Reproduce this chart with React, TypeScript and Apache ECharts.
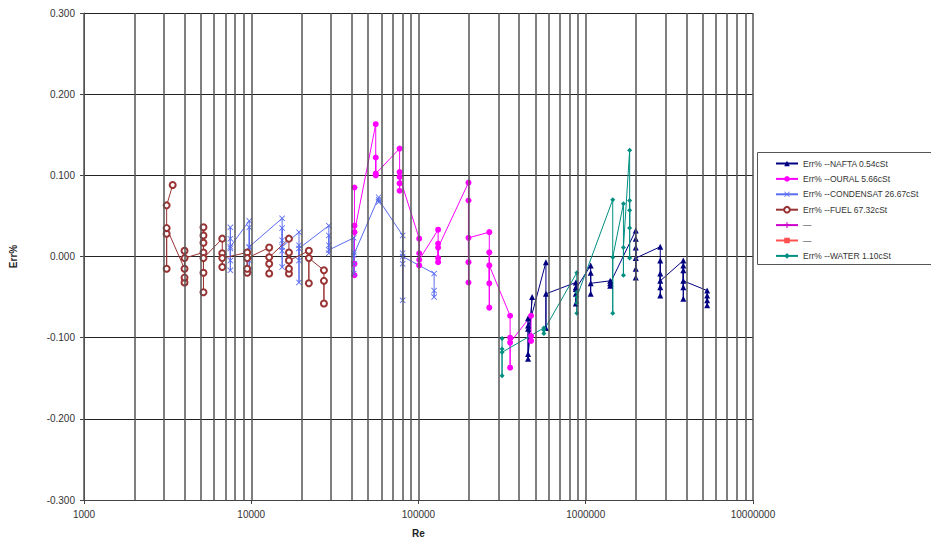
import React, { useEffect, useRef } from "react";
import * as echarts from "echarts";

// Re, Err% pairs per series
const NAFTA: [number, number][] = [
  [452000, -0.085], [452000, -0.126], [478000, -0.05], [452000, -0.12], [452000, -0.076], [452000, -0.089],
  [578000, -0.007], [578000, -0.088], [578000, -0.046],
  [872000, -0.032], [872000, -0.058], [872000, -0.038], [872000, -0.046], [872000, -0.04],
  [1070000, -0.011], [1070000, -0.046], [1070000, -0.02], [1070000, -0.033],
  [1400000, -0.03], [1400000, -0.036], [1400000, -0.033],
  [1990000, 0.032], [1990000, -0.026], [1990000, 0.022], [1990000, -0.015], [1990000, 0.011], [1990000, -0.002],
  [2790000, 0.012], [2790000, -0.048], [2790000, -0.005], [2790000, -0.038], [2790000, -0.021], [2790000, -0.03],
  [3830000, -0.005], [3830000, -0.052], [3830000, -0.011], [3830000, -0.038], [3830000, -0.017], [3830000, -0.03],
  [5320000, -0.042], [5320000, -0.06], [5320000, -0.048], [5320000, -0.054],
];

const OURAL: [number, number][] = [
  [41400, 0.085], [41400, -0.023], [41400, 0.038], [41400, -0.009], [41400, 0.03],
  [55500, 0.163], [55500, 0.1], [55500, 0.122], [55500, 0.102],
  [77100, 0.133], [77100, 0.081], [77100, 0.104], [77100, 0.09], [77100, 0.098],
  [101000, 0.022], [101000, -0.011], [101000, 0.004], [101000, -0.004],
  [131000, 0.033], [131000, -0.007], [131000, 0.016], [131000, -0.002], [131000, 0.011],
  [199000, 0.091], [199000, -0.032], [199000, 0.069], [199000, -0.007], [199000, 0.023],
  [265000, 0.03], [265000, -0.063], [265000, 0.005], [265000, -0.033], [265000, -0.011],
  [353000, -0.073], [353000, -0.137], [353000, -0.1], [353000, -0.106],
  [471000, -0.073], [471000, -0.104], [471000, -0.098],
];

const CONDENSAT: [number, number][] = [
  [7500, 0.01], [7500, 0.036], [7500, -0.017], [7500, 0.022], [7500, -0.005], [7500, 0.012],
  [9730, 0.044], [9730, -0.017], [9730, 0.036], [9730, -0.005], [9730, 0.011], [9730, 0.012],
  [15300, 0.047], [15300, -0.013], [15300, 0.035], [15300, 0.007], [15300, 0.02], [15300, 0.012],
  [19300, 0.03], [19300, -0.032], [19300, 0.014], [19300, -0.005], [19300, 0.01],
  [29100, 0.038], [29100, 0.004], [29100, 0.026], [29100, 0.014], [29100, 0.008],
  [41000, 0.023], [41000, -0.021], [41000, 0.005], [41000, -0.009], [41000, 0.002],
  [57800, 0.073], [57800, 0.067], [57800, 0.07],
  [80400, 0.026], [80400, -0.054], [80400, 0.004], [80400, -0.009], [80400, 0.0],
  [124000, -0.021], [124000, -0.05], [124000, -0.042],
];

const FUEL: [number, number][] = [
  [3390, 0.088], [3120, 0.063], [3120, -0.015], [3120, 0.028], [3120, 0.035],
  [3990, -0.015], [3990, -0.032], [3990, 0.007], [3990, -0.026], [3990, -0.002],
  [5180, 0.005], [5180, 0.036], [5180, -0.044], [5180, 0.026], [5180, -0.02], [5180, 0.017], [5180, -0.002],
  [6710, 0.022], [6710, -0.013], [6710, 0.004], [6710, -0.002],
  [9460, 0.005], [9460, -0.02], [9460, -0.015], [9460, -0.002],
  [12800, 0.011], [12800, -0.021], [12800, -0.009], [12800, -0.001],
  [16800, 0.022], [16800, -0.021], [16800, 0.005], [16800, -0.015], [16800, -0.005],
  [22100, 0.007], [22100, -0.033], [22100, -0.002],
  [27200, -0.017], [27200, -0.058], [27200, -0.03],
];

const EMPTY_A: [number, number][] = [];
const EMPTY_B: [number, number][] = [];

const WATER: [number, number][] = [
  [316000, -0.101], [316000, -0.147], [316000, -0.114], [316000, -0.118],
  [562000, -0.088], [562000, -0.095], [562000, -0.091],
  [884000, -0.02], [884000, -0.07], [884000, -0.044], [884000, -0.057], [884000, -0.05],
  [1450000, 0.07], [1450000, -0.07], [1450000, -0.001],
  [1680000, 0.065], [1680000, -0.023], [1680000, 0.011],
  [1830000, 0.131], [1830000, -0.002], [1830000, 0.069], [1830000, 0.035], [1830000, 0.057],
];

const LEGEND_NAMES = [
  "Err% --NAFTA 0.54cSt",
  "Err% --OURAL 5.66cSt",
  "Err% --CONDENSAT 26.67cSt",
  "Err% --FUEL 67.32cSt",
  "—",
  "— ",
  "Err% --WATER 1.10cSt",
];

const X_GRID_LINES: number[] = [];
for (const d of [1000, 10000, 100000, 1000000]) {
  for (let k = 1; k <= 9; k++) X_GRID_LINES.push(d * k);
}
X_GRID_LINES.push(10000000);

const X_SYMBOL = "path://M0,1L1,0L5,4L9,0L10,1L6,5L10,9L9,10L5,6L1,10L0,9L4,5Z";
const PLUS_SYMBOL = "path://M4,0H6V4H10V6H6V10H4V6H0V4H4Z";

const FONT = "'Liberation Sans', Arial, sans-serif";

export default function App() {
  const ref = useRef<HTMLDivElement>(null);
  useEffect(() => {
    if (!ref.current) return;
    const chart = echarts.init(ref.current, undefined, { renderer: "svg" });
    const mk = (name: string, data: [number, number][], color: string, symbol: string, size: number, itemExtra: any = {}) => ({
      name,
      type: "line",
      data,
      symbol,
      symbolSize: size,
      showSymbol: true,
      z: 3,
      lineStyle: { color, width: 1 },
      itemStyle: { color, ...itemExtra },
      emphasis: { disabled: true },
    });
    chart.setOption({
      animation: false,
      textStyle: { fontFamily: FONT },
      grid: { left: 81, right: 186, top: 13, bottom: 47, containLabel: false },
      xAxis: {
        type: "log",
        logBase: 10,
        min: 1000,
        max: 10000000,
        name: "Re",
        nameLocation: "middle",
        nameGap: 28,
        nameTextStyle: { fontSize: 10, fontWeight: "bold", color: "#222", fontFamily: FONT },
        axisLine: { show: true, onZero: false, lineStyle: { color: "#444", width: 1 } },
        axisTick: { show: true, inside: false, length: 4, lineStyle: { color: "#444" } },
        axisLabel: { fontSize: 10, color: "#333", margin: 9, fontFamily: FONT, formatter: (v: number) => String(Math.round(v)) },
        splitLine: { show: false },
      },
      yAxis: {
        type: "value",
        min: -0.3,
        max: 0.3,
        interval: 0.1,
        name: "Err%",
        nameLocation: "middle",
        nameGap: 66,
        nameTextStyle: { fontSize: 10, fontWeight: "bold", color: "#222", fontFamily: FONT },
        axisLine: { show: true, lineStyle: { color: "#444", width: 1 } },
        axisTick: { show: true, inside: false, length: 4, lineStyle: { color: "#444" } },
        axisLabel: {
          fontSize: 10,
          color: "#333",
          margin: 9,
          fontFamily: FONT,
          formatter: (v: number) => (Math.abs(v) < 1e-9 ? 0 : v).toFixed(3),
        },
        splitLine: { show: true, lineStyle: { color: "#222", width: 1 } },
      },
      legend: {
        orient: "vertical",
        left: 775,
        top: 159,
        itemWidth: 22,
        itemHeight: 7,
        itemGap: 6.4,
        padding: 0,
        data: LEGEND_NAMES,
        textStyle: { fontSize: 8.5, color: "#333", fontFamily: FONT },
        formatter: (n: string) => n.trim(),
      },
      graphic: [
        {
          type: "rect",
          shape: { x: 757.5, y: 152.5, width: 177, height: 112 },
          style: { fill: "none", stroke: "#555", lineWidth: 1 },
          z: 1,
        },
      ],
      series: [
        {
          name: "grid",
          type: "line",
          data: [],
          silent: true,
          z: 1,
          markLine: {
            silent: true,
            symbol: "none",
            label: { show: false },
            lineStyle: { color: "#555", width: 1.5, type: "solid" },
            emphasis: { disabled: true },
            data: X_GRID_LINES.map((v) => ({ xAxis: v })),
          },
        },
        mk(LEGEND_NAMES[0], NAFTA, "#000080", "triangle", 6),
        mk(LEGEND_NAMES[1], OURAL, "#ff00ff", "circle", 6),
        mk(LEGEND_NAMES[2], CONDENSAT, "#5a6cf0", X_SYMBOL, 6),
        mk(LEGEND_NAMES[3], FUEL, "#993333", "emptyCircle", 6, { borderWidth: 1 }),
        mk(LEGEND_NAMES[4], EMPTY_A, "#cc00cc", PLUS_SYMBOL, 6),
        mk(LEGEND_NAMES[5], EMPTY_B, "#ff5050", "rect", 6),
        mk(LEGEND_NAMES[6], WATER, "#008f80", "diamond", 5),
      ],
    });
    return () => chart.dispose();
  }, []);
  return <div ref={ref} style={{ width: 939, height: 547, margin: -8, background: "#fff" }} />;
}
